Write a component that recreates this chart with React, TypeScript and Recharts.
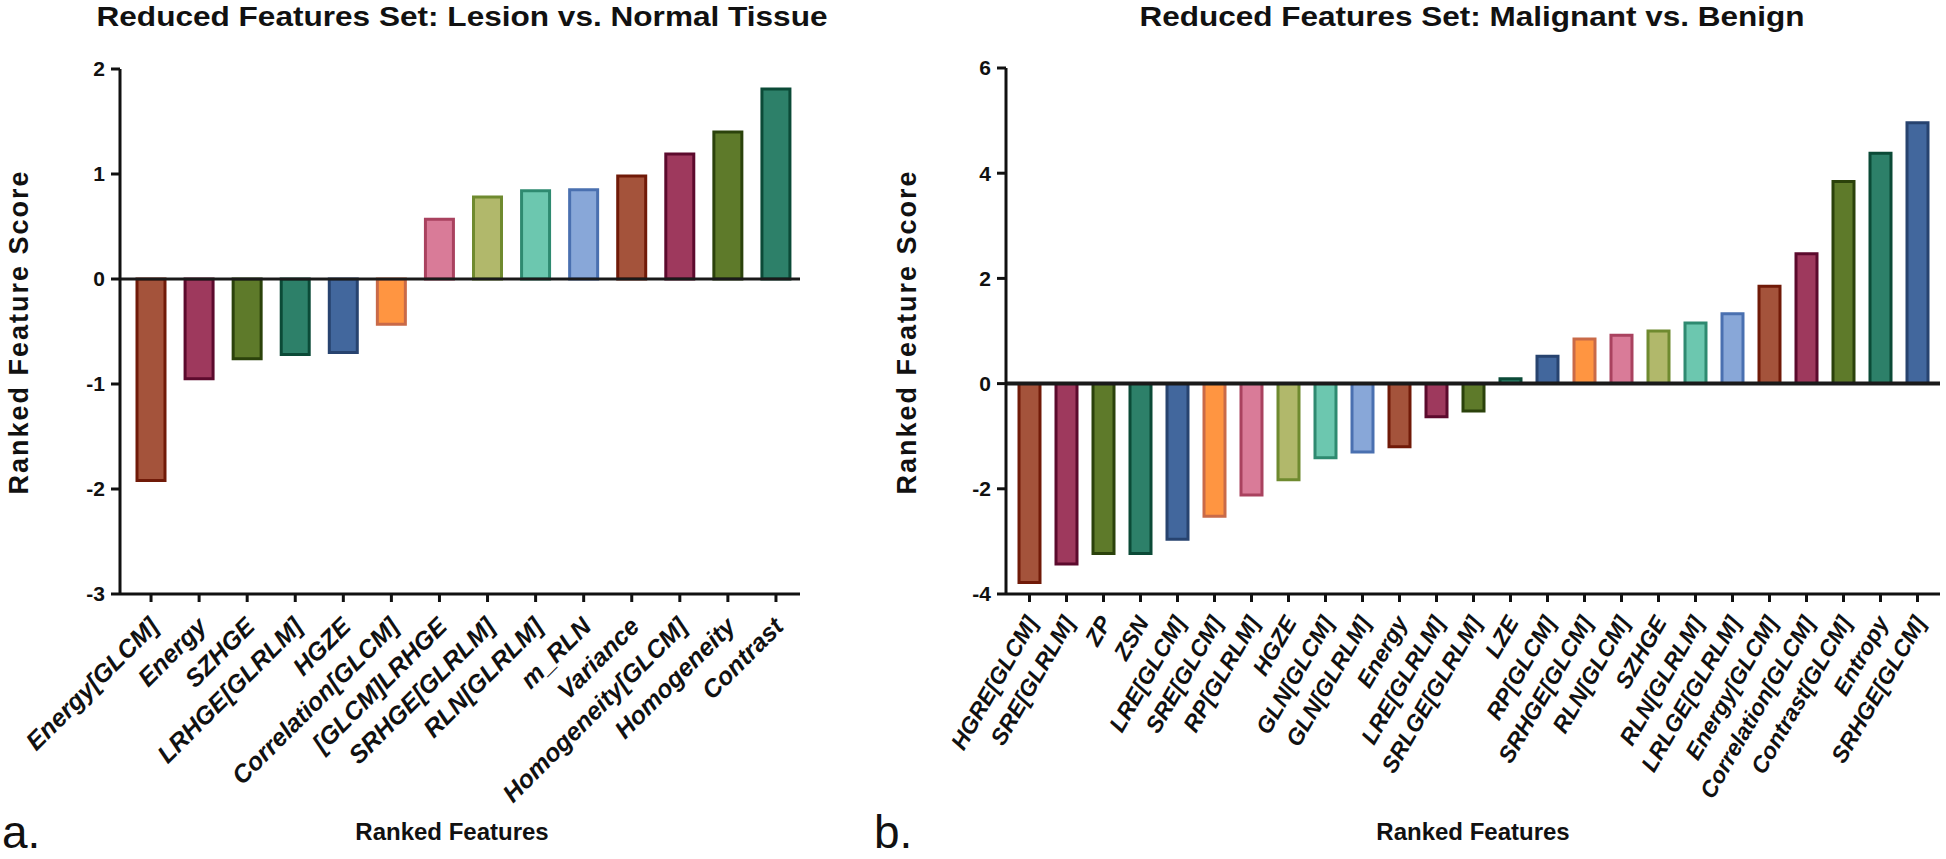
import { Bar, BarChart, Cell, ReferenceLine, XAxis, YAxis } from "recharts";

const FONT = '"Liberation Sans", Arial, Helvetica, sans-serif';
const INK = "#111111";

// panel a: lesion vs. normal tissue
const lesionFeatures = [
  "Energy[GLCM]",
  "Energy",
  "SZHGE",
  "LRHGE[GLRLM]",
  "HGZE",
  "Correlation[GLCM]",
  "[GLCM]LRHGE",
  "SRHGE[GLRLM]",
  "RLN[GLRLM]",
  "m_RLN",
  "Variance",
  "Homogeneity[GLCM]",
  "Homogeneity",
  "Contrast",
];
const lesionScores = [
  -1.92, -0.95, -0.76, -0.72, -0.7, -0.43, 0.57, 0.78, 0.84, 0.85, 0.98, 1.19,
  1.4, 1.81,
];
const lesionTicks = [-3, -2, -1, 0, 1, 2];

// panel b: malignant vs. benign
const malignantFeatures = [
  "HGRE[GLCM]",
  "SRE[GLRLM]",
  "ZP",
  "ZSN",
  "LRE[GLCM]",
  "SRE[GLCM]",
  "RP[GLRLM]",
  "HGZE",
  "GLN[GLCM]",
  "GLN[GLRLM]",
  "Energy",
  "LRE[GLRLM]",
  "SRLGE[GLRLM]",
  "LZE",
  "RP[GLCM]",
  "SRHGE[GLCM]",
  "RLN[GLCM]",
  "SZHGE",
  "RLN[GLRLM]",
  "LRLGE[GLRLM]",
  "Energy[GLCM]",
  "Correlation[GLCM]",
  "Contrast[GLCM]",
  "Entropy",
  "SRHGE[GLCM]",
];
const malignantScores = [
  -3.78, -3.43, -3.23, -3.23, -2.96, -2.52, -2.12, -1.83, -1.41, -1.3, -1.2,
  -0.63, -0.52, 0.09, 0.52, 0.85, 0.92, 1.0, 1.15, 1.33, 1.85, 2.47, 3.84, 4.38,
  4.96,
];
const malignantTicks = [-4, -2, 0, 2, 4, 6];

// prism-like palette, repeats every 10 bars
const FILLS = [
  "#A4533B",
  "#9E395D",
  "#5E7A2A",
  "#2D8069",
  "#42679D",
  "#FF9541",
  "#D97B98",
  "#B1B86B",
  "#6CC7AF",
  "#88A7D8",
];
const STROKES = [
  "#701A08",
  "#5C0A2D",
  "#2B420B",
  "#0B4A37",
  "#27436F",
  "#C96A48",
  "#A9425F",
  "#6F8A2F",
  "#2E8A70",
  "#4A70B0",
];

const rotatedTick =
  (angle: number, fontSize: number, dx: number, dy: number) =>
  (props: any) => {
    const { x, y, payload } = props;
    const tx = x + dx;
    const ty = y + dy;
    return (
      <text
        x={tx}
        y={ty}
        transform={`rotate(${angle}, ${tx}, ${ty})`}
        textAnchor="end"
        fontFamily={FONT}
        fontWeight={700}
        fontStyle="italic"
        fontSize={fontSize}
        fill={INK}
      >
        {payload.value}
      </text>
    );
  };

interface PanelProps {
  features: string[];
  scores: number[];
  ticks: number[];
  left: number;
  width: number;
  top: number;
  rightMargin: number;
  leftMargin: number;
  barSize: number;
  pad: { left: number; right: number };
  angle: number;
  labelSize: number;
  labelDx: number;
  labelDy: number;
  zeroWidth: number;
}

function Panel(p: PanelProps) {
  const data = p.features.map((name, i) => ({ name, score: p.scores[i] }));
  const yMin = p.ticks[0];
  const yMax = p.ticks[p.ticks.length - 1];

  return (
    <div style={{ position: "absolute", left: p.left, top: 0 }}>
      <BarChart
        width={p.width}
        height={859}
        data={data}
        margin={{ top: p.top, right: p.rightMargin, left: p.leftMargin, bottom: 65 }}
      >
        <XAxis
          dataKey="name"
          interval={0}
          height={200}
          padding={p.pad}
          tickSize={8}
          axisLine={{ stroke: INK, strokeWidth: 3 }}
          tickLine={{ stroke: INK, strokeWidth: 3 }}
          tick={rotatedTick(p.angle, p.labelSize, p.labelDx, p.labelDy)}
        />
        <YAxis
          type="number"
          width={60}
          domain={[yMin, yMax]}
          ticks={p.ticks}
          interval={0}
          tickSize={9}
          tickMargin={6}
          axisLine={{ stroke: INK, strokeWidth: 3 }}
          tickLine={{ stroke: INK, strokeWidth: 3 }}
          tick={{ fill: INK, fontSize: 21, fontWeight: 700, fontFamily: FONT }}
        />
        <Bar
          dataKey="score"
          barSize={p.barSize}
          strokeWidth={3}
          isAnimationActive={false}
        >
          {data.map((row, i) => (
            <Cell
              key={row.name}
              fill={FILLS[i % FILLS.length]}
              stroke={STROKES[i % STROKES.length]}
            />
          ))}
        </Bar>
        <ReferenceLine y={0} stroke="#1a1a1a" strokeWidth={p.zeroWidth} />
      </BarChart>
    </div>
  );
}

export default function App() {
  return (
    <div
      style={{
        position: "absolute",
        left: 0,
        top: 0,
        width: 1946,
        height: 859,
        background: "#fff",
        overflow: "hidden",
      }}
    >
      <Panel
        features={lesionFeatures}
        scores={lesionScores}
        ticks={lesionTicks}
        left={0}
        width={830}
        top={69}
        leftMargin={60}
        rightMargin={30}
        barSize={28}
        pad={{ left: 7, right: 0 }}
        angle={-45}
        labelSize={25}
        labelDx={9}
        labelDy={24}
        zeroWidth={3}
      />
      <Panel
        features={malignantFeatures}
        scores={malignantScores}
        ticks={malignantTicks}
        left={880}
        width={1066}
        top={68}
        leftMargin={66}
        rightMargin={6}
        barSize={21}
        pad={{ left: 5, right: 4 }}
        angle={-60}
        labelSize={23}
        labelDx={9}
        labelDy={18}
        zeroWidth={4}
      />

      <svg
        width={1946}
        height={859}
        style={{ position: "absolute", left: 0, top: 0, pointerEvents: "none" }}
        fontFamily={FONT}
        fill={INK}
      >
        <text x={462} y={26} textAnchor="middle" fontSize={28} fontWeight={700} textLength={731} lengthAdjust="spacingAndGlyphs">
          Reduced Features Set: Lesion vs. Normal Tissue
        </text>
        <text x={1472} y={26} textAnchor="middle" fontSize={28} fontWeight={700} textLength={665} lengthAdjust="spacingAndGlyphs">
          Reduced Features Set: Malignant vs. Benign
        </text>

        <text transform="translate(28, 332) rotate(-90)" textAnchor="middle" fontSize={27} fontWeight={700} letterSpacing={2}>
          Ranked Feature Score
        </text>
        <text transform="translate(916, 332) rotate(-90)" textAnchor="middle" fontSize={27} fontWeight={700} letterSpacing={2}>
          Ranked Feature Score
        </text>

        <text x={452} y={840} textAnchor="middle" fontSize={24} fontWeight={700}>
          Ranked Features
        </text>
        <text x={1473} y={840} textAnchor="middle" fontSize={24} fontWeight={700}>
          Ranked Features
        </text>

        <text x={2} y={848} fontSize={46}>
          a.
        </text>
        <text x={874} y={848} fontSize={46}>
          b.
        </text>
      </svg>
    </div>
  );
}
